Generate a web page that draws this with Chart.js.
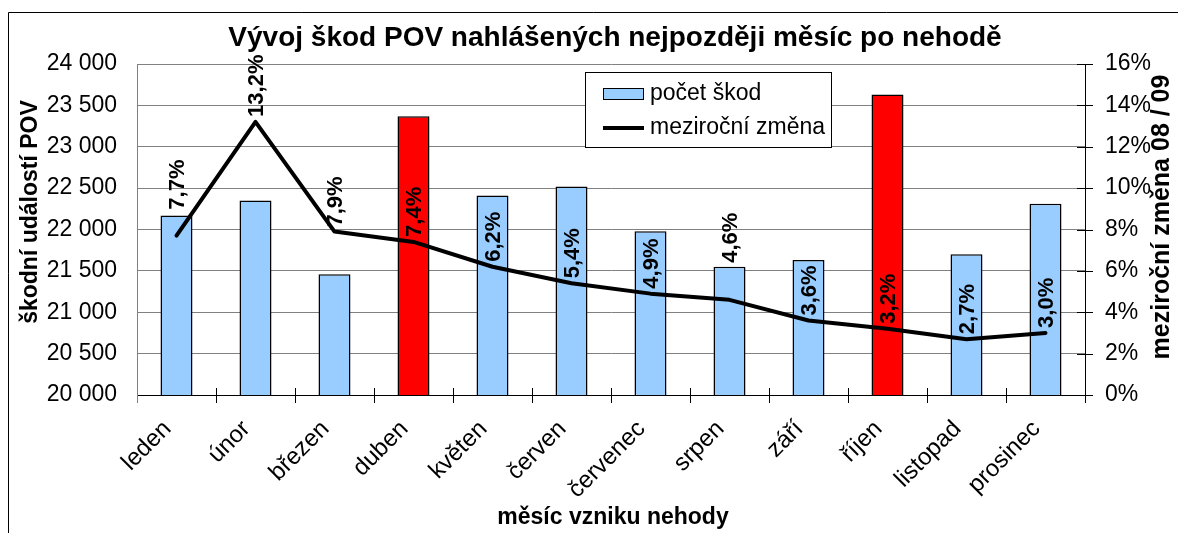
<!DOCTYPE html>
<html><head><meta charset="utf-8">
<script src="https://cdn.jsdelivr.net/npm/chart.js@4.4.1/dist/chart.umd.min.js"></script>
<style>html,body{margin:0;padding:0;background:#fff;}#wrap{width:1178px;height:533px;position:relative;}</style>
</head><body><div id="wrap"><canvas id="c" width="1178" height="533"></canvas></div>
<script>
const months = ['leden','únor','březen','duben','květen','červen','červenec','srpen','září','říjen','listopad','prosinec'];
const claimCounts = [22170,22350,21460,23370,22410,22520,21980,21550,21630,23630,21700,22310];
const yoyChange = [7.7,13.2,7.9,7.4,6.2,5.4,4.9,4.6,3.6,3.2,2.7,3.0];
const highlightedMonths = ['duben','říjen'];
const seriesNames = ['počet škod','meziroční změna'];
const chartTitle = 'Vývoj škod POV nahlášených nejpozději měsíc po nehodě';
const xTitle = 'měsíc vzniku nehody';
const yTitle = 'škodní událostí POV';
const y1Title = 'meziroční změna 08 / 09';

const FONT = '"Liberation Sans", Arial, sans-serif';
const BLUE = '#99CCFF', RED = '#FF0000';
const labelLift = {0: 26, 7: 37};

const fmtThousands = v => String(v).replace(/\B(?=(\d{3})+(?!\d))/g, ' ');
const fmtPct = v => v.toFixed(1).replace('.', ',') + '%';

const decor = {
  id: 'decor',
  beforeDraw(chart) {
    const c = chart.ctx;
    c.save(); c.fillStyle = '#fff'; c.fillRect(0, 0, chart.width, chart.height); c.restore();
  },
  afterDraw(chart) {
    const c = chart.ctx, a = chart.chartArea;
    const y1 = chart.scales.y1;
    c.save();
    // frame
    c.strokeStyle = '#000'; c.lineWidth = 1;
    c.beginPath(); c.moveTo(8.5, chart.height + 2); c.lineTo(8.5, 12.5); c.lineTo(chart.width + 2, 12.5); c.stroke();
    // x-axis crossing ticks at category boundaries
    const n = months.length;
    const step = (a.right - a.left) / n;
    c.strokeStyle = '#000'; c.lineWidth = 1;
    c.beginPath();
    for (let i = 1; i <= n; i++) {
      const x = Math.round(a.left + i * step) + 0.5;
      c.moveTo(x, a.bottom - 7); c.lineTo(x, a.bottom + 8);
    }
    c.stroke();
    c.strokeStyle = '#808080';
    c.beginPath(); c.moveTo(Math.round(a.left) + 0.5, a.bottom); c.lineTo(Math.round(a.left) + 0.5, a.bottom + 8); c.stroke();
    // right axis crossing ticks
    c.strokeStyle = '#000';
    c.beginPath();
    y1.ticks.forEach(t => {
      const y = Math.round(y1.getPixelForValue(t.value)) + 0.5;
      c.moveTo(a.right - 8, y); c.lineTo(a.right + 8, y);
    });
    c.stroke();
    // data labels
    const meta = chart.getDatasetMeta(1);
    c.fillStyle = '#000';
    c.font = 'bold 22px ' + FONT;
    c.textAlign = 'left'; c.textBaseline = 'middle';
    meta.data.forEach((pt, i) => {
      const lift = labelLift[i] !== undefined ? labelLift[i] : 5;
      c.save();
      c.translate(pt.x + 1, pt.y - lift);
      c.rotate(-Math.PI / 2);
      c.fillText(fmtPct(yoyChange[i]), 0, 0);
      c.restore();
    });
    // title
    c.font = 'bold 28px ' + FONT;
    c.textAlign = 'center'; c.textBaseline = 'middle';
    c.fillText(chartTitle, 615, 38);
    // x title
    c.font = 'bold 23px ' + FONT;
    c.fillText(xTitle, 613, 518);
    // y titles
    c.save(); c.translate(31, 212); c.rotate(-Math.PI / 2); c.fillText(yTitle, 0, 0); c.restore();
    c.font = 'bold 25px ' + FONT;
    c.save(); c.translate(1162, 217); c.rotate(-Math.PI / 2); c.fillText(y1Title, 0, 0); c.restore();
    // legend
    c.fillStyle = '#fff'; c.fillRect(585, 72, 247, 76);
    c.strokeStyle = '#000'; c.lineWidth = 1; c.strokeRect(585.5, 72.5, 246, 75);
    c.fillStyle = BLUE; c.fillRect(603, 88, 41, 12);
    c.strokeRect(603.5, 88.5, 40, 11);
    c.lineWidth = 4; c.beginPath(); c.moveTo(603, 128); c.lineTo(644, 128); c.stroke();
    c.fillStyle = '#000'; c.font = '23px ' + FONT; c.textAlign = 'left'; c.textBaseline = 'middle';
    c.fillText(seriesNames[0], 650, 94);
    c.fillText(seriesNames[1], 650, 128);
    c.restore();
  }
};

new Chart(document.getElementById('c'), {
  data: {
    labels: months,
    datasets: [
      {
        type: 'bar', label: seriesNames[0], data: claimCounts, yAxisID: 'y', order: 2,
        backgroundColor: months.map(m => highlightedMonths.includes(m) ? RED : BLUE),
        borderColor: '#000', borderWidth: 1.5, borderSkipped: 'bottom',
        barPercentage: 0.405, categoryPercentage: 1
      },
      {
        type: 'line', label: seriesNames[1], data: yoyChange, yAxisID: 'y1', order: 1,
        borderColor: '#000', borderWidth: 4, pointRadius: 0, tension: 0, fill: false,
        borderJoinStyle: 'round', borderCapStyle: 'round'
      }
    ]
  },
  options: {
    responsive: false, animation: false, devicePixelRatio: 1,
    layout: { padding: { top: 64, left: 0, right: 0, bottom: 0 } },
    plugins: { legend: { display: false }, title: { display: false }, tooltip: { enabled: false } },
    scales: {
      x: {
        offset: true,
        grid: { display: true, drawOnChartArea: false, drawTicks: false },
        border: { display: true, color: '#000', width: 1 },
        ticks: { color: '#000', font: { family: FONT, size: 24 }, minRotation: 45, maxRotation: 45, padding: 20, labelOffset: -9, autoSkip: false },
        afterFit(s) { s.height = 138; }
      },
      y: {
        position: 'left', min: 20000, max: 24000,
        grid: { color: '#808080', lineWidth: 1, drawTicks: false },
        border: { display: true, color: '#808080', width: 1 },
        ticks: { stepSize: 500, color: '#000', font: { family: FONT, size: 23 }, padding: 20, callback: v => fmtThousands(v) },
        afterFit(s) { s.width = 137; }
      },
      y1: {
        position: 'right', min: 0, max: 16,
        grid: { drawOnChartArea: false, drawTicks: false },
        border: { display: true, color: '#000', width: 1 },
        ticks: { stepSize: 2, color: '#000', font: { family: FONT, size: 23 }, padding: 20, callback: v => v + '%' },
        afterFit(s) { s.width = 93; }
      }
    }
  },
  plugins: [decor]
});
</script>
</body></html>
